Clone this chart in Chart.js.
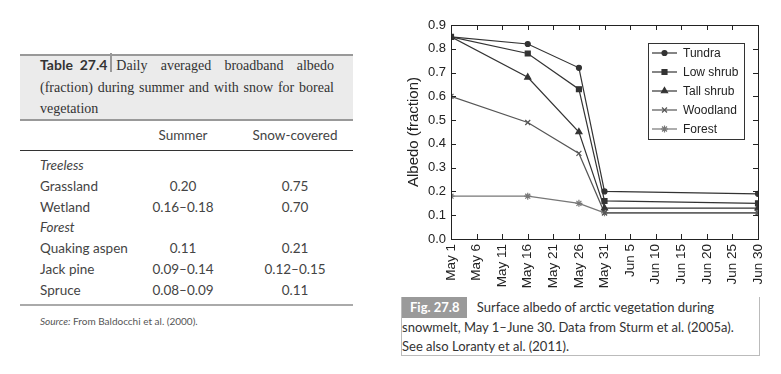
<!DOCTYPE html>
<html>
<head>
<meta charset="utf-8">
<script src="https://cdn.jsdelivr.net/npm/chart.js@4"></script>
<style>
  body { margin: 0; width: 781px; height: 374px; background: #fff; position: relative; overflow: hidden; }
  .abs { position: absolute; white-space: nowrap; }
  #tblHead { position: absolute; left: 20px; top: 54px; width: 333px; height: 63px;
    background: #ebebeb; border-top: 2px solid #999; border-bottom: 2px solid #999; }
  #tblHead .title { position: absolute; left: 20px; top: -2px; width: 294px;
    font-family: "Liberation Serif", serif; font-size: 14px; line-height: 21.5px; color: #333; text-align: justify; }
  #tblHead .lab { display: inline-block; font-family: Lato, sans-serif; font-weight: bold; font-size: 14px; color: #333; }
  #tblHead .bar { display: inline-block; width: 2px; height: 19px; background: #999; margin: 0 4px 0 3px; vertical-align: -6px; position: relative; top: -4px; }
  .tb { font-family: Lato, sans-serif; font-size: 13.5px; color: #444; }
  .c1 { width: 80px; text-align: center; left: 143px; }
  .c2 { width: 100px; text-align: center; left: 245px; }
  #chartBox { position: absolute; left: 395px; top: 0px; width: 375px; height: 295px; }
  #caption { position: absolute; left: 401px; top: 297px; width: 357px; height: 58px;
    border: 1px solid #bbb; border-top: none; font-family: Lato, sans-serif; font-size: 13px; color: #333; line-height: 19px; }
  #caption .fig { display: inline-block; background: #9a9a9a; color: #fff; font-weight: bold; padding: 1px 8px 1px 8px; margin-right: 6px; }
</style>
</head>
<body>
<div id="tblHead">
  <div class="title"><span class="lab">Table&nbsp;&nbsp;27.4</span><span class="bar"></span>Daily averaged broadband albedo (fraction) during summer and with snow for boreal vegetation</div>
</div>
<div class="abs tb c1" style="top:127px">Summer</div>
<div class="abs tb c2" style="top:127px">Snow-covered</div>
<div class="abs" style="left:20px;top:150px;width:333px;height:1px;background:#333"></div>
<div class="abs tb" style="left:40px;top:157px;font-style:italic">Treeless</div>
<div class="abs tb" style="left:40px;top:178px">Grassland</div>
<div class="abs tb c1" style="top:178px">0.20</div>
<div class="abs tb c2" style="top:178px">0.75</div>
<div class="abs tb" style="left:40px;top:199px">Wetland</div>
<div class="abs tb c1" style="top:199px">0.16–0.18</div>
<div class="abs tb c2" style="top:199px">0.70</div>
<div class="abs tb" style="left:40px;top:219px;font-style:italic">Forest</div>
<div class="abs tb" style="left:40px;top:240px">Quaking aspen</div>
<div class="abs tb c1" style="top:240px">0.11</div>
<div class="abs tb c2" style="top:240px">0.21</div>
<div class="abs tb" style="left:40px;top:261px">Jack pine</div>
<div class="abs tb c1" style="top:261px">0.09–0.14</div>
<div class="abs tb c2" style="top:261px">0.12–0.15</div>
<div class="abs tb" style="left:40px;top:282px">Spruce</div>
<div class="abs tb c1" style="top:282px">0.08–0.09</div>
<div class="abs tb c2" style="top:282px">0.11</div>
<div class="abs" style="left:20px;top:304px;width:333px;height:2px;background:#aaa"></div>
<div class="abs" style="left:40px;top:315px;font-family:Lato,sans-serif;font-size:10px;color:#555"><i>Source:</i> From Baldocchi et al. (2000).</div>

<div id="chartBox"><canvas id="myChart"></canvas></div>
<div id="caption"><span class="fig">Fig. 27.8</span> Surface albedo of arctic vegetation during<br>snowmelt, May 1–June 30. Data from Sturm et al. (2005a).<br>See also Loranty et al. (2011).</div>

<script>
// tick labels, day 0 = May 1
const dayLabels = ["May 1", "May 6", "May 11", "May 16", "May 21", "May 26", "May 31",
  "Jun 5", "Jun 10", "Jun 15", "Jun 20", "Jun 25", "Jun 30"];
// days the albedo was measured
const sampleDays = [0, 15, 25, 30, 60];
const seriesNames = ["Tundra", "Low shrub", "Tall shrub", "Woodland", "Forest"];
const tundra = [0.85, 0.82, 0.72, 0.20, 0.19];
const lowShrub = [0.85, 0.78, 0.63, 0.16, 0.15];
const tallShrub = [0.85, 0.68, 0.45, 0.13, 0.13];
const woodland = [0.60, 0.49, 0.36, 0.11, 0.11];
const forest = [0.18, 0.18, 0.15, 0.11, 0.11];

const styles = [
  { color: "#333", point: "circle", r: 2.5 },
  { color: "#333", point: "rect", r: 3.5 },
  { color: "#333", point: "triangle", r: 3.5 },
  { color: "#555", point: "crossRot", r: 3.5 },
  { color: "#777", point: "star", r: 3.5 }
];

function toPoints(values) {
  return values.map((v, i) => ({ x: sampleDays[i], y: v }));
}

const allSeries = [tundra, lowShrub, tallShrub, woodland, forest];
const datasets = allSeries.map((vals, i) => ({
  label: seriesNames[i],
  data: toPoints(vals),
  borderColor: styles[i].color,
  backgroundColor: styles[i].color,
  pointBackgroundColor: styles[i].color,
  pointBorderColor: styles[i].color,
  borderWidth: 1.2,
  pointStyle: styles[i].point,
  pointRadius: styles[i].r,
  pointBorderWidth: 1.2,
  tension: 0
}));

// frame with inward ticks on all four sides, plus the boxed legend
const framePlugin = {
  id: "frame",
  afterDraw(chart) {
    const ctx = chart.ctx;
    const a = chart.chartArea;
    const xs = chart.scales.x, ys = chart.scales.y;
    ctx.save();
    ctx.strokeStyle = "#222";
    ctx.lineWidth = 1;
    ctx.strokeRect(a.left + 0.5, a.top + 0.5, a.right - a.left, a.bottom - a.top);
    ctx.beginPath();
    xs.ticks.forEach(t => {
      const x = Math.round(xs.getPixelForValue(t.value)) + 0.5;
      ctx.moveTo(x, a.bottom); ctx.lineTo(x, a.bottom - 5);
      ctx.moveTo(x, a.top); ctx.lineTo(x, a.top + 5);
    });
    ys.ticks.forEach(t => {
      const y = Math.round(ys.getPixelForValue(t.value)) + 0.5;
      ctx.moveTo(a.left, y); ctx.lineTo(a.left + 5, y);
      ctx.moveTo(a.right, y); ctx.lineTo(a.right - 5, y);
    });
    ctx.stroke();

    // legend box
    const lx = 253, ly = 43, lw = 96, lh = 96;
    ctx.fillStyle = "#fff";
    ctx.fillRect(lx, ly, lw, lh);
    ctx.strokeStyle = "#333";
    ctx.strokeRect(lx + 0.5, ly + 0.5, lw, lh);
    ctx.font = "12px 'Liberation Sans', Arial, sans-serif";
    ctx.textBaseline = "middle";
    chart.data.datasets.forEach((ds, i) => {
      const y = ly + 10 + i * 19;
      const x0 = lx + 4;
      ctx.strokeStyle = ds.borderColor;
      ctx.fillStyle = ds.borderColor;
      ctx.lineWidth = 1.2;
      ctx.beginPath();
      ctx.moveTo(x0, y); ctx.lineTo(x0 + 25, y);
      ctx.stroke();
      Chart.helpers.drawPoint(ctx, {
        pointStyle: ds.pointStyle, radius: ds.pointRadius, borderWidth: 1.2
      }, x0 + 12.5, y);
      ctx.fillStyle = "#222";
      ctx.fillText(ds.label, x0 + 31, y + 1);
    });
    ctx.restore();
  }
};

const ctx = document.getElementById("myChart").getContext("2d");
const myChart = new Chart(ctx, {
  type: "line",
  data: { datasets: datasets },
  options: {
    responsive: true,
    maintainAspectRatio: false,
    animation: false,
    layout: { padding: { top: 25, right: 12, left: 10, bottom: 0 } },
    plugins: { legend: { display: false }, tooltip: { enabled: false } },
    scales: {
      x: {
        type: "linear",
        min: 0, max: 60,
        grid: { display: false, drawTicks: false },
        border: { display: false },
        afterFit: s => { s.height = 56; s.paddingRight = 0; s.paddingLeft = 0; },
        ticks: {
          stepSize: 5,
          padding: 5,
          minRotation: 90, maxRotation: 90,
          color: "#222",
          font: { family: "'Liberation Sans', Arial, sans-serif", size: 13.5 },
          callback: v => dayLabels[v / 5]
        }
      },
      y: {
        min: 0, max: 0.9,
        grid: { display: false, drawTicks: false },
        border: { display: false },
        afterFit: s => { s.width = 46; },
        title: {
          display: true, text: "Albedo (fraction)", color: "#222",
          font: { family: "'Liberation Sans', Arial, sans-serif", size: 15 },
          padding: { top: 0, bottom: 6 }
        },
        ticks: {
          stepSize: 0.1,
          padding: 5,
          color: "#222",
          font: { family: "'Liberation Sans', Arial, sans-serif", size: 13 },
          callback: v => v.toFixed(1)
        }
      }
    }
  },
  plugins: [framePlugin]
});
</script>
</body>
</html>
